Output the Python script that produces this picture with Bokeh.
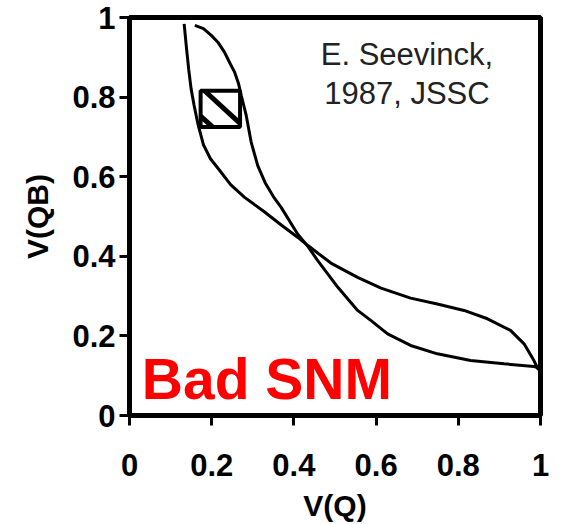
from bokeh.plotting import figure
from bokeh.models import Range1d, FixedTicker, Label
from bokeh.embed import file_html
from bokeh.resources import INLINE

# ---- data ----
curve1_x = [0.133, 0.138, 0.144, 0.150, 0.157, 0.167, 0.180, 0.197, 0.220, 0.246,
            0.280, 0.328, 0.370, 0.409, 0.434, 0.490, 0.555, 0.612, 0.684, 0.749,
            0.814, 0.871, 0.927, 0.960, 0.984, 0.995]
curve1_y = [0.984, 0.930, 0.870, 0.820, 0.780, 0.730, 0.680, 0.645, 0.615, 0.580,
            0.548, 0.512, 0.478, 0.448, 0.427, 0.383, 0.347, 0.320, 0.295, 0.280,
            0.264, 0.243, 0.214, 0.180, 0.138, 0.115]

curve2_x = [0.159, 0.180, 0.199, 0.215, 0.231, 0.246, 0.256, 0.265, 0.272, 0.284,
            0.296, 0.312, 0.330, 0.350, 0.369, 0.409, 0.434, 0.458, 0.507, 0.555,
            0.587, 0.628, 0.684, 0.749, 0.830, 0.911, 0.984, 0.995]
curve2_y = [0.980, 0.972, 0.955, 0.938, 0.913, 0.882, 0.862, 0.835, 0.804, 0.754,
            0.687, 0.628, 0.585, 0.550, 0.523, 0.456, 0.425, 0.389, 0.322, 0.264,
            0.239, 0.205, 0.176, 0.155, 0.138, 0.130, 0.123, 0.120]

# SNM square (x extent, y extent)
box_x = [0.173, 0.269]
box_y = [0.725, 0.816]

x_ticks = [0, 0.2, 0.4, 0.6, 0.8, 1.0]
x_tick_labels = ["0", "0.2", "0.4", "0.6", "0.8", "1"]
y_ticks = [0, 0.2, 0.4, 0.6, 0.8, 1.0]
y_tick_labels = ["0", "0.2", "0.4", "0.6", "0.8", "1"]

x_label = "V(Q)"
y_label = "V(QB)"
ref_line1 = "E. Seevinck,"
ref_line2 = "1987, JSSC"
snm_text = "Bad SNM"

FONT = "Liberation Sans"

p = figure(width=561, height=524, output_backend="svg", toolbar_location=None,
           x_range=Range1d(0, 1), y_range=Range1d(0, 1),
           min_border_left=129, min_border_right=21,
           min_border_top=17, min_border_bottom=109)
p.background_fill_color = "white"
p.border_fill_color = "white"
p.outline_line_color = "black"
p.outline_line_width = 5
p.xgrid.visible = False
p.ygrid.visible = False

for ax, ticks, labels in ((p.xaxis[0], x_ticks, x_tick_labels),
                          (p.yaxis[0], y_ticks, y_tick_labels)):
    ax.ticker = FixedTicker(ticks=ticks)
    ax.major_label_overrides = {t: l for t, l in zip(ticks, labels)}
    ax.axis_line_width = 5
    ax.major_tick_out = 10
    ax.major_tick_in = 0
    ax.major_tick_line_width = 3
    ax.minor_tick_line_color = None
    ax.major_label_text_font = FONT
    ax.major_label_text_font_style = "bold"
    ax.major_label_text_font_size = "31px"
    ax.major_label_text_color = "black"
    ax.axis_label_text_font = FONT
    ax.axis_label_text_font_style = "bold"
    ax.axis_label_text_font_size = "30px"
    ax.axis_label_text_color = "black"

p.xaxis[0].axis_label = x_label
p.yaxis[0].axis_label = y_label
p.xaxis[0].major_label_standoff = 28
p.xaxis[0].axis_label_standoff = 10
p.yaxis[0].major_label_standoff = 4
p.yaxis[0].axis_label_standoff = 15

# butterfly curves
p.line(curve1_x, curve1_y, line_color="black", line_width=3)
p.line(curve2_x, curve2_y, line_color="black", line_width=3)

# SNM square with hatch stripes
x0, x1 = box_x
y0, y1 = box_y
w, h = x1 - x0, y1 - y0
d = 0.3
p.segment(x0=[x0 + 0.1 * w, x0], y0=[y1, y0 + d * h],
          x1=[x1, x0 + d * w], y1=[y0 + 0.1 * h, y0],
          line_color="black", line_width=5)
p.quad(left=[x0], right=[x1], bottom=[y0], top=[y1],
       fill_alpha=0, line_color="black", line_width=4)

# annotations
p.add_layout(Label(x=0.675, y=0.908, text=ref_line1, text_align="center",
                   text_baseline="alphabetic", text_font=FONT,
                   text_font_size="31px", text_color="#222222"))
p.add_layout(Label(x=0.675, y=0.810, text=ref_line2, text_align="center",
                   text_baseline="alphabetic", text_font=FONT,
                   text_font_size="31px", text_color="#222222"))
p.add_layout(Label(x=0.03, y=0.092, text=snm_text, text_align="left",
                   text_baseline="alphabetic", text_font=FONT,
                   text_font_style="bold", text_font_size="57px",
                   text_color="#FF0000"))

open("out.html", "w").write(file_html(p, INLINE))
